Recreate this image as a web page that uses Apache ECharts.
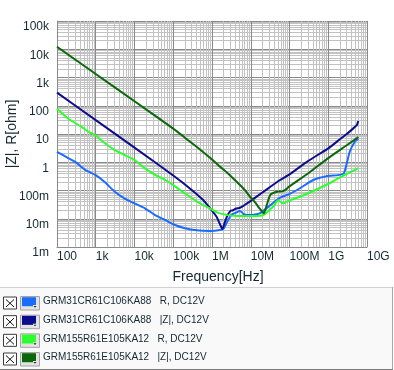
<!DOCTYPE html>
<html><head><meta charset="utf-8">
<script src="https://cdn.jsdelivr.net/npm/echarts@6/dist/echarts.min.js"></script>
<style>html,body{margin:0;padding:0;background:#fff}#c{width:394px;height:370px}</style>
</head><body><div id="c"></div>
<script>
// ---- tick labels ----
const xTickLabels = ['100','1k','10k','100k','1M','10M','100M','1G','10G'];
const yTickLabels = ['1m','10m','100m','1','10','100','1k','10k','100k'];

// ---- series names / colours ----
const seriesNames = [
  'GRM31CR61C106KA88   R, DC12V',
  'GRM31CR61C106KA88   |Z|, DC12V',
  'GRM155R61E105KA12   R, DC12V',
  'GRM155R61E105KA12   |Z|, DC12V'
];
const seriesColors = ['#1a6cff', '#0c0c8e', '#2cff2c', '#0a680a'];

// ---- GRM31 R ----
const freq1 = [100,200,290,530,1e3,1.7e3,3.1e3,5.6e3,1e4,1.86e4,3.4e4,6.1e4,1.12e5,2e5,4e5,9e5,1.6e6,2e6,2.6e6,3.2e6,4e6,5.2e6,6.5e6,8e6,1.2e7,1.7e7,3e7,5.6e7,1e8,1.86e8,4.1e8,9e8,1.8e9,2.5e9,3e9,3.6e9,4.9e9,6e9];
const val1  = [2.35,1.38,1.05,0.54,0.35,0.2,0.091,0.052,0.035,0.0235,0.0135,0.0091,0.006,0.0046,0.0039,0.0037,0.004,0.0045,0.009,0.014,0.016,0.019,0.015,0.0135,0.014,0.0155,0.028,0.055,0.075,0.12,0.235,0.32,0.35,0.4,0.9,2.4,5.4,6.8];

// ---- GRM31 |Z| ----
const freq2 = [100,1e3,1e4,1e5,3e5,6e5,9e5,1.3e6,1.6e6,1.86e6,2.1e6,2.5e6,3e6,3.5e6,4.2e6,5e6,6e6,8e6,1e7,2e7,5.7e7,1e8,3e8,1e9,2e9,3e9,4e9,4.9e9,5.5e9,6e9];
const val2  = [290,31,3.3,0.34,0.105,0.045,0.023,0.012,0.0065,0.0043,0.007,0.013,0.019,0.02,0.023,0.024,0.027,0.035,0.043,0.085,0.235,0.37,1.1,3.1,6.5,10,14,18,21,29];

// ---- GRM155 R ----
const freq3 = [100,200,430,640,950,1.7e3,3.1e3,5.6e3,1e4,1.86e4,3.4e4,6.1e4,1.12e5,2e5,4.9e5,9e5,1.6e6,4.4e6,1.17e7,2.1e7,3.8e7,5.1e7,6.9e7,1e8,1.86e8,9.1e8,2e9,6e9];
const val3  = [78,34,18,12,9.2,4.8,2.7,1.8,1.2,0.61,0.36,0.24,0.14,0.078,0.035,0.023,0.0155,0.0126,0.0126,0.0135,0.027,0.045,0.035,0.045,0.06,0.16,0.29,0.62];

// ---- GRM155 |Z| ----
const freq4 = [100,1e3,1e4,1e5,2e5,4.4e5,1e6,1.6e6,2.5e6,4.4e6,7e6,9.6e6,1.3e7,1.55e7,1.9e7,2.17e7,2.6e7,3.2e7,4.7e7,6.9e7,1e8,3e8,1e9,3e9,6e9];
const val4  = [12300,1330,144,15.5,7.4,3.2,1.25,0.7,0.42,0.2,0.105,0.06,0.038,0.027,0.019,0.0155,0.031,0.07,0.09,0.095,0.14,0.4,1.4,4,7.8];

const freqs = [freq1, freq2, freq3, freq4];
const vals = [val1, val2, val3, val4];

const TXT = '#142a30';
const AX_FONT = "'Liberation Sans Narrow', 'Liberation Sans', sans-serif";

const chart = echarts.init(document.getElementById('c'), null, {renderer: 'canvas'});

// legend panel decorations (checkboxes / colour buttons)
const rowStep = 18.67, row0 = 296.5;
const graphics = [
  {type:'rect', shape:{x:0, y:287, width:393, height:82}, style:{fill:'#f9f9f9'}, z:0, silent:true},
  {type:'line', shape:{x1:0, y1:287.5, x2:393, y2:287.5}, style:{stroke:'#d2d2d2', lineWidth:1}, z:1, silent:true},
  {type:'line', shape:{x1:392.5, y1:287, x2:392.5, y2:370}, style:{stroke:'#a8a8a8', lineWidth:1}, z:1, silent:true},
  {type:'line', shape:{x1:0, y1:369.5, x2:393, y2:369.5}, style:{stroke:'#7a7a7a', lineWidth:1}, z:1, silent:true}
];
seriesNames.forEach((n, i) => {
  const y = row0 + i * rowStep;
  graphics.push(
    {type:'rect', shape:{x:3.5, y:y+0.5, width:13, height:12}, style:{fill:'#fff', stroke:'#3c3c3c', lineWidth:1}, z:2, silent:true},
    {type:'line', shape:{x1:6, y1:y+3, x2:14, y2:y+10.5}, style:{stroke:'#111', lineWidth:1}, z:3, silent:true},
    {type:'line', shape:{x1:14, y1:y+3, x2:6, y2:y+10.5}, style:{stroke:'#111', lineWidth:1}, z:3, silent:true},
    {type:'rect', shape:{x:20.5, y:y, width:19, height:13.5}, style:{fill:'#e2e2e2', stroke:'#a4a4a4', lineWidth:1}, z:2, silent:true},
    {type:'rect', shape:{x:33, y:y+8.5, width:4, height:3.5}, style:{fill:'#e8e8e8'}, z:20, silent:true},
    {type:'polygon', shape:{points:[[33.5,y+9.5],[36.5,y+9.5],[35,y+11.2]]}, style:{fill:'#222'}, z:21, silent:true}
  );
});

const series = seriesNames.map((name, i) => ({
  name: name,
  type: 'line',
  data: freqs[i].map((f, k) => [f, vals[i][k]]),
  showSymbol: false,
  symbol: 'none',
  smooth: 0.2,
  lineStyle: {color: seriesColors[i], width: 2},
  itemStyle: {color: seriesColors[i]},
  z: 3,
  animation: false
}));

const yLabelStyle = {color: TXT, fontFamily: AX_FONT, fontSize: 12, verticalAlign: 'top'};

chart.setOption({
  animation: false,
  backgroundColor: '#ffffff',
  grid: {left: 57, top: 21, width: 310, height: 226, containLabel: false, outerBoundsMode: 'none'},
  xAxis: {
    type: 'log', logBase: 10, min: 100, max: 1e10, splitNumber: 8,
    name: 'Frequency[Hz]', nameLocation: 'middle', nameGap: 23,
    nameTextStyle: {fontFamily: "'Liberation Sans', sans-serif", fontSize: 14, color: TXT, padding: [0, 0, 0, 12]},
    axisLine: {show: true, lineStyle: {color: '#8a8a8a', width: 1}},
    axisTick: {show: false},
    axisLabel: {
      margin: 4, align: 'left', color: TXT, fontFamily: AX_FONT, fontSize: 12,
      showMinLabel: true, showMaxLabel: true, hideOverlap: false,
      formatter: v => xTickLabels[Math.round(Math.log10(v)) - 2] || ''
    },
    splitLine: {show: true, lineStyle: {color: '#8a8a8a', width: 1}},
    minorTick: {show: false, splitNumber: 9},
    minorSplitLine: {show: true, lineStyle: {color: '#c2c2c2', width: 1}}
  },
  yAxis: {
    type: 'log', logBase: 10, min: 1e-3, max: 1e5, splitNumber: 8,
    name: '|Z|, R[ohm]', nameLocation: 'middle', nameGap: 45, nameMoveOverlap: false,
    nameTextStyle: {fontFamily: "'Liberation Sans', sans-serif", fontSize: 14, color: TXT, align: 'center', verticalAlign: 'middle'},
    axisLine: {show: true, lineStyle: {color: '#8a8a8a', width: 1}},
    axisTick: {show: false},
    axisLabel: {
      margin: 8, color: TXT, fontFamily: AX_FONT, fontSize: 12,
      verticalAlign: 'top', lineHeight: 9,
      showMinLabel: true, showMaxLabel: true, hideOverlap: false,
      formatter: v => {
        const idx = Math.round(Math.log10(v)) + 3;
        const t = yTickLabels[idx] || '';
        return idx === 0 ? '{lo|' + t + '}' : '{n|' + t + '}';
      },
      rich: {
        n: Object.assign({lineHeight: 9}, yLabelStyle),
        lo: Object.assign({lineHeight: 16}, yLabelStyle)
      }
    },
    splitLine: {show: true, lineStyle: {color: '#8a8a8a', width: 1}},
    minorTick: {show: false, splitNumber: 9},
    minorSplitLine: {show: true, lineStyle: {color: '#c2c2c2', width: 1}}
  },
  legend: {
    orient: 'vertical', left: 22, top: 294.7, padding: 0, itemGap: 4.67,
    itemWidth: 14, itemHeight: 9, icon: 'rect', selectedMode: false,
    textStyle: {fontFamily: "'Liberation Sans', sans-serif", fontSize: 10, color: TXT, lineHeight: 14, padding: [0, 0, 0, 2]},
    data: seriesNames
  },
  graphic: graphics,
  series: series
});
</script>
</body></html>
